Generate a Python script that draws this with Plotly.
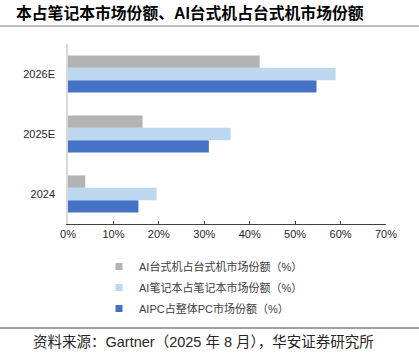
import plotly.graph_objects as go

categories = ["2024", "2025E", "2026E"]
series_names = ["AIPC占整体PC市场份额（%）", "AI笔记本占笔记本市场份额（%）", "AI台式机占台式机市场份额（%）"]
aipc = [15.5, 31.0, 54.7]
ai_notebook = [19.5, 35.8, 58.9]
ai_desktop = [3.8, 16.4, 42.2]
colors = ["#4472C4", "#BDD7EE", "#B3B3B3"]
x_ticks = [0, 10, 20, 30, 40, 50, 60, 70]
x_tick_labels = [f"{v}%" for v in x_ticks]

title_text = "本占笔记本市场份额、AI台式机占台式机市场份额"
source_text = "资料来源：Gartner（2025 年 8 月），华安证券研究所"

FONT = "Liberation Sans, Arial, Noto Sans CJK SC, sans-serif"

fig = go.Figure()
for i, (name, vals, c) in enumerate(zip(series_names, [aipc, ai_notebook, ai_desktop], colors)):
    fig.add_trace(go.Bar(y=categories, x=vals, orientation="h", name=name,
                         marker=dict(color=c, line=dict(width=0)), showlegend=False,
                         hoverinfo="skip"))
    fig.add_trace(go.Scatter(x=[None], y=[None], mode="markers", name=name,
                             legendgroup=f"g{i}", legendrank=100 - i,
                             marker=dict(symbol="square", size=7, color=c)))

L, R, T, B = 68, 33, 44, 133
W, H = 419, 357
pw, ph = W - L - R, H - T - B

def px_x(p):
    return (p - L) / pw

def px_y(p):
    return (H - B - p) / ph

fig.update_layout(
    width=W, height=H,
    margin=dict(l=L, r=R, t=T, b=B, autoexpand=False),
    paper_bgcolor="white", plot_bgcolor="white",
    barmode="group", bargap=0.38, bargroupgap=0,
    font=dict(family=FONT, size=11, color="#262626"),
    showlegend=True,
    legend=dict(x=px_x(99), y=px_y(252), xanchor="left", yanchor="top",
                traceorder="grouped", tracegroupgap=2,
                font=dict(size=11, color="#404040"),
                itemwidth=30, bgcolor="rgba(0,0,0,0)"),
    xaxis=dict(range=[0, 70], tickvals=x_ticks, ticktext=x_tick_labels,
               showgrid=False, zeroline=False, showline=True, linecolor="#404040",
               linewidth=1, ticks="inside", ticklen=3, tickcolor="#404040",
               tickfont=dict(size=11, color="#262626"), fixedrange=True, automargin=False),
    yaxis=dict(categoryorder="array", categoryarray=categories,
               showgrid=False, zeroline=False, showline=True, linecolor="#D9D9D9",
               linewidth=1.5, ticks="", ticklabelstandoff=9,
               tickfont=dict(size=11, color="#262626"), fixedrange=True, automargin=False),
    shapes=[
        dict(type="line", xref="paper", yref="paper", x0=px_x(0), x1=px_x(W),
             y0=px_y(26), y1=px_y(26), line=dict(color="#7F7F7F", width=1)),
        dict(type="line", xref="paper", yref="paper", x0=px_x(0), x1=px_x(W),
             y0=px_y(328), y1=px_y(328), line=dict(color="#404040", width=1)),
    ],
    annotations=[
        dict(text="<b>" + title_text + "</b>", xref="paper", yref="paper",
             x=px_x(14), y=px_y(13), xanchor="left", yanchor="middle", showarrow=False,
             font=dict(size=15.8, color="#000000", family="Liberation Sans, Noto Sans CJK SC")),
        dict(text=source_text, xref="paper", yref="paper",
             x=px_x(203), y=px_y(342), xanchor="center", yanchor="middle", showarrow=False,
             font=dict(size=14.5, color="#262626", family="Liberation Sans, Noto Sans CJK SC")),
    ],
)

fig.write_html("out.html", config={"displayModeBar": False},
               post_script="document.body.style.margin='0';document.body.style.overflow='hidden';")
